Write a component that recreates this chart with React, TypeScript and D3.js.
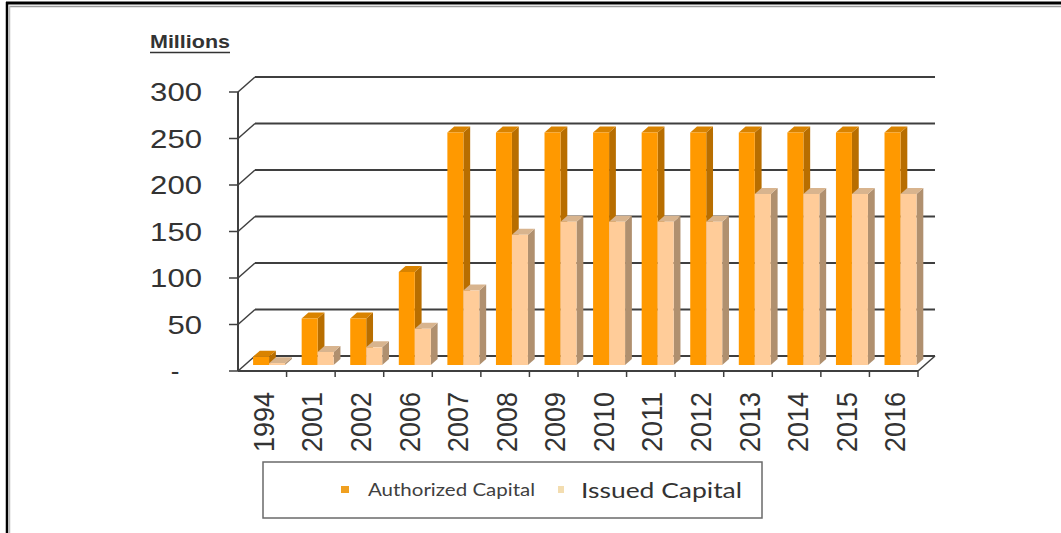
import React from "react";
import * as d3 from "d3";

const categories = ["1994","2001","2002","2006","2007","2008","2009","2010","2011","2012","2013","2014","2015","2016"];
const authorized = [9,50,50,100,250,250,250,250,250,250,250,250,250,250];
const issued = [2,14,19,39,80,140,154,154,154,154,184,184,184,184];
const yTicks = [0,50,100,150,200,250,300];
const yTickLabels = ["-","50","100","150","200","250","300"];
const seriesNames = ["Authorized Capital","Issued Capital"];

const W = 1061, H = 533;
const DX = 17, DY = 15;
const D1 = 0.4, D2 = 0.8;

const colors = [
  { face: "#FF9900", side: "#B86E00", top: "#D98300" },
  { face: "#FFCC99", side: "#B0906F", top: "#D8B48E" },
];

export default function App() {
  const x = d3.scaleBand<string>().domain(categories).range([238, 918]).paddingInner(0).paddingOuter(0);
  const y = d3.scaleLinear().domain([0, 300]).range([371, 92]);
  const bw = x.bandwidth();
  const barW = 16;
  const groupOff = (bw - 2 * barW) / 2;
  const P = (px: number, v: number, d: number) => [px + d * DX, y(v) - d * DY];
  const pts = (arr: number[][]) => arr.map((p) => p.join(",")).join(" ");

  const bars: React.ReactNode[] = [];
  categories.forEach((c, i) => {
    [authorized[i], issued[i]].forEach((v, s) => {
      const x0 = (x(c) as number) + groupOff + s * barW;
      const x1 = x0 + barW;
      const col = colors[s];
      const side = [P(x1, 0, D1), P(x1, 0, D2), P(x1, v, D2), P(x1, v, D1)];
      const top = [P(x0, v, D1), P(x1, v, D1), P(x1, v, D2), P(x0, v, D2)];
      const front = [P(x0, 0, D1), P(x1, 0, D1), P(x1, v, D1), P(x0, v, D1)];
      bars.push(
        <g key={c + s}>
          <polygon points={pts(side)} fill={col.side} />
          <polygon points={pts(top)} fill={col.top} />
          <polygon points={pts(front)} fill={col.face} />
        </g>
      );
    });
  });

  const gridColor = "#3f3f3f";
  const x0 = 238, x1 = 918;

  return (
    <svg width={W} height={H} style={{ position: "absolute", left: 0, top: 0, background: "#fff" }}
      fontFamily="'Liberation Sans', Arial, sans-serif">
      {/* frame */}
      <line x1={6} y1={3} x2={W} y2={3} stroke="#000" strokeWidth={3} />
      <line x1={9} y1={6.5} x2={W} y2={6.5} stroke="#9a9a9a" strokeWidth={1.5} />
      <line x1={7} y1={2} x2={7} y2={H} stroke="#000" strokeWidth={2.5} />
      <line x1={9.5} y1={6} x2={9.5} y2={H} stroke="#bdbdbd" strokeWidth={1.5} />

      {/* Millions */}
      <text x={150} y={48} fontSize={18} fontWeight="bold" fill="#333" textLength={80} lengthAdjust="spacingAndGlyphs">Millions</text>
      <line x1={150} y1={52.5} x2={230} y2={52.5} stroke="#333" strokeWidth={1.5} />

      {/* back gridlines + left wall diagonals + y ticks */}
      {yTicks.map((t, i) => {
        const [bx, by] = P(x0, t, 1);
        const [ex] = P(x1, t, 1);
        return (
          <g key={t}>
            <line x1={bx} y1={by} x2={ex} y2={by} stroke={gridColor} strokeWidth={2} />
            <line x1={x0} y1={y(t)} x2={bx} y2={by} stroke={gridColor} strokeWidth={1.5} />
            <line x1={229} y1={y(t)} x2={x0} y2={y(t)} stroke={gridColor} strokeWidth={1.5} />
            <text x={i === 0 ? 175 : 202} y={y(t)} fontSize={26} fill="#333" textAnchor={i === 0 ? "middle" : "end"}
              dominantBaseline="central"
              textLength={i === 0 ? undefined : yTickLabels[i].length * 17.3} lengthAdjust="spacingAndGlyphs">
              {yTickLabels[i]}
            </text>
          </g>
        );
      })}

      {/* front axis */}
      <line x1={x0} y1={y(300)} x2={x0} y2={y(0)} stroke={gridColor} strokeWidth={2} />
      <line x1={x0} y1={y(0)} x2={x1} y2={y(0)} stroke={gridColor} strokeWidth={2} />
      <line x1={x1} y1={y(0)} x2={x1 + DX} y2={y(0) - DY} stroke={gridColor} strokeWidth={1.5} />
      {categories.map((c) => (
        <line key={"t" + c} x1={(x(c) as number) + bw} y1={y(0)} x2={(x(c) as number) + bw} y2={y(0) + 6}
          stroke={gridColor} strokeWidth={1.5} />
      ))}

      {bars}

      {/* x labels */}
      {categories.map((c) => {
        const cx = (x(c) as number) + bw / 2 + 1;
        return (
          <text key={"l" + c} transform={`translate(${cx},392) rotate(-90)`} fontSize={30} fill="#333"
            textAnchor="end" dominantBaseline="central" textLength={60} lengthAdjust="spacingAndGlyphs">
            {c}
          </text>
        );
      })}

      {/* legend */}
      <rect x={263} y={462} width={499} height={56} fill="#fff" stroke="#6a6a6a" strokeWidth={1.5} />
      <rect x={341} y={486} width={8} height={7} fill="#F0A020" />
      <text x={368} y={489.5} fontSize={17} fill="#404040" fontFamily="Lato, 'Open Sans', sans-serif"
        dominantBaseline="central" textLength={167} lengthAdjust="spacingAndGlyphs">{seriesNames[0]}</text>
      <rect x={558} y={486} width={6} height={7} fill="#F3DDB0" />
      <text x={581} y={489.5} fontSize={22} fill="#333" fontFamily="Lato, 'Open Sans', sans-serif"
        dominantBaseline="central" textLength={161} lengthAdjust="spacingAndGlyphs">{seriesNames[1]}</text>
    </svg>
  );
}
